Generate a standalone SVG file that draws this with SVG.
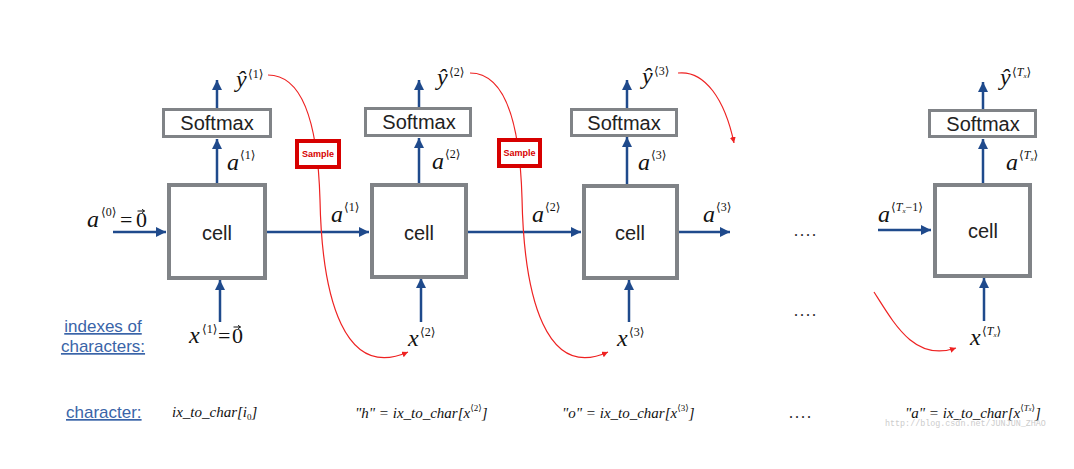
<svg xmlns="http://www.w3.org/2000/svg" width="1074" height="469" viewBox="0 0 1074 469">
<style>
.cell{fill:#fff;stroke:#808387;stroke-width:4}
.soft{fill:#fff;stroke:#808387;stroke-width:3}
.lbl{font-family:"Liberation Sans",Arial,sans-serif;font-size:20px;fill:#222;text-anchor:middle}
.bl{stroke:#1f4a8c;stroke-width:2.5;fill:none;marker-end:url(#ab)}
.rd{stroke:#ee2222;stroke-width:1.2;fill:none;marker-end:url(#ar)}
.vec{stroke:#111;stroke-width:1;fill:none;marker-end:url(#av)}
.samp{fill:#fff;stroke:#d70000;stroke-width:4}
.st{font-family:"Liberation Sans",Arial,sans-serif;font-size:9px;font-weight:bold;fill:#d70000;text-anchor:middle}
.m{font-family:"Liberation Serif","DejaVu Serif",serif;font-style:italic;font-size:24px;fill:#111}
.s{font-family:"Liberation Serif","DejaVu Sans",serif;font-size:12px;fill:#111}
.r{font-family:"Liberation Serif","DejaVu Serif",serif;font-size:22px;fill:#111}
.f{font-family:"Liberation Serif","DejaVu Serif",serif;font-style:italic;font-size:15px;fill:#111}
.fs{font-family:"Liberation Serif","DejaVu Sans",serif;font-style:normal;font-size:9px}
.lk{font-family:"Liberation Sans",Arial,sans-serif;font-size:17px;fill:#3a64a8;text-decoration:underline}
.dots{font-family:"Liberation Serif",serif;font-size:16px;fill:#222;letter-spacing:2px}
</style>
<defs>
<marker id="ab" markerUnits="userSpaceOnUse" markerWidth="12" markerHeight="12" refX="10" refY="5" orient="auto"><path d="M0,0 L10,5 L0,10 Z" fill="#1f4a8c"/></marker>
<marker id="ar" markerUnits="userSpaceOnUse" markerWidth="8" markerHeight="8" refX="6" refY="3" orient="auto"><path d="M0,0 L6,3 L0,6 Z" fill="#ee2222"/></marker>
<marker id="av" markerUnits="userSpaceOnUse" markerWidth="5" markerHeight="5" refX="3" refY="2" orient="auto"><path d="M0,0 L3,2 L0,4" fill="none" stroke="#111" stroke-width="1"/></marker>
</defs>
<g id="connectors">
<path class="bl" d="M217,183 V139"/>
<path class="bl" d="M217,108 V80"/>
<path class="bl" d="M113,232 H166"/>
<path class="bl" d="M267,232 H369"/>
<path class="bl" d="M419,183 V138"/>
<path class="bl" d="M419,107 V80"/>
<path class="bl" d="M468,232 H581"/>
<path class="bl" d="M627,184 V137"/>
<path class="bl" d="M627,108 V80"/>
<path class="bl" d="M679,232 H730"/>
<path class="bl" d="M878,230 H931"/>
<path class="bl" d="M983,183 V139"/>
<path class="bl" d="M983,109 V82"/>
<path class="bl" d="M220,322 V280"/>
<path class="bl" d="M421,322 V278"/>
<path class="bl" d="M629,322 V280"/>
<path class="bl" d="M984,321 V278"/>
<path class="rd" d="M268,75 C305,75 318,130 320,200 C322,300 345,380 408,352"/>
<path class="rd" d="M470,73 C507,73 520,128 522,198 C524,300 547,380 608,352"/>
<path class="rd" d="M678,73 C705,70 725,100 734,143"/>
<path class="rd" d="M874,292 C895,325 915,362 956,348"/>
</g>
<g id="cell1"><rect class="cell" x="169" y="185" width="96" height="93"/><text class="lbl" x="217" y="240">cell</text></g>
<g id="cell2"><rect class="cell" x="372" y="185" width="94" height="92"/><text class="lbl" x="419" y="240">cell</text></g>
<g id="cell3"><rect class="cell" x="584" y="186" width="93" height="92"/><text class="lbl" x="630" y="240">cell</text></g>
<g id="cell4"><rect class="cell" x="935" y="185" width="95" height="91"/><text class="lbl" x="983" y="238">cell</text></g>
<g id="softmax1"><rect class="soft" x="163.5" y="109.5" width="107" height="27"/><text class="lbl" x="217" y="130">Softmax</text></g>
<g id="softmax2"><rect class="soft" x="365.5" y="108.5" width="105" height="27"/><text class="lbl" x="419" y="129">Softmax</text></g>
<g id="softmax3"><rect class="soft" x="571.5" y="109.5" width="105" height="26"/><text class="lbl" x="624" y="130">Softmax</text></g>
<g id="softmax4"><rect class="soft" x="929.5" y="110.5" width="106" height="26"/><text class="lbl" x="983" y="131">Softmax</text></g>
<g id="sample1"><rect class="samp" x="297" y="141" width="42" height="26"/><text class="st" x="318" y="157">Sample</text></g>
<g id="sample2"><rect class="samp" x="499" y="140" width="41" height="26"/><text class="st" x="519.5" y="156">Sample</text></g>
<g id="labels">
<text class="m" x="236" y="87" font-size="22">ŷ</text><text class="s" x="248" y="78">⟨1⟩</text>
<text class="m" x="437" y="85" font-size="22">ŷ</text><text class="s" x="449" y="76">⟨2⟩</text>
<text class="m" x="642" y="84" font-size="22">ŷ</text><text class="s" x="654" y="75">⟨3⟩</text>
<text class="m" x="1000" y="85" font-size="22">ŷ</text><text class="s" x="1012" y="76" font-size="10">⟨<tspan font-style="italic">T</tspan><tspan font-size="7" dy="2" font-style="italic">x</tspan><tspan dy="-2">⟩</tspan></text>
<text class="m" x="227" y="170">a</text><text class="s" x="240" y="159">⟨1⟩</text>
<text class="m" x="432" y="169">a</text><text class="s" x="445" y="158">⟨2⟩</text>
<text class="m" x="638" y="170">a</text><text class="s" x="651" y="159">⟨3⟩</text>
<text class="m" x="1006" y="170">a</text><text class="s" x="1019" y="159" font-size="10">⟨<tspan font-style="italic">T</tspan><tspan font-size="7" dy="2" font-style="italic">x</tspan><tspan dy="-2">⟩</tspan></text>
<text class="m" x="87" y="227">a</text><text class="s" x="101" y="216">⟨0⟩</text><text class="r" x="120" y="227">=</text><text class="r" x="136" y="227">0</text>
<path class="vec" d="M137.5,211 H144.5"/>
<text class="m" x="331" y="222">a</text><text class="s" x="344" y="211">⟨1⟩</text>
<text class="m" x="532" y="222">a</text><text class="s" x="545" y="211">⟨2⟩</text>
<text class="m" x="703" y="222">a</text><text class="s" x="716" y="211">⟨3⟩</text>
<text class="m" x="878" y="222">a</text><text class="s" x="891" y="211" font-size="10">⟨<tspan font-style="italic">T</tspan><tspan font-size="7" dy="2" font-style="italic">x</tspan><tspan dy="-2">−1⟩</tspan></text>
<text class="m" x="189" y="343" font-size="22">x</text><text class="s" x="202" y="333">⟨1⟩</text><text class="r" x="218" y="343">=</text><text class="r" x="232" y="343">0</text>
<path class="vec" d="M233.5,327 H240.5"/>
<text class="m" x="408" y="346" font-size="22">x</text><text class="s" x="420" y="336">⟨2⟩</text>
<text class="m" x="617" y="346" font-size="22">x</text><text class="s" x="629" y="336">⟨3⟩</text>
<text class="m" x="970" y="345" font-size="22">x</text><text class="s" x="982" y="335" font-size="10">⟨<tspan font-style="italic">T</tspan><tspan font-size="7" dy="2" font-style="italic">x</tspan><tspan dy="-2">⟩</tspan></text>
<text class="dots" x="794" y="236">....</text>
<text class="dots" x="794" y="316">....</text>
<text class="dots" x="789" y="418">....</text>
<text class="lk" x="103" y="332" text-anchor="middle">indexes of</text>
<text class="lk" x="103" y="352" text-anchor="middle">characters:</text>
<text class="lk" x="66" y="418">character:</text>
<text class="f" x="172" y="417">ix_to_char[i<tspan class="fs" dy="3">0</tspan><tspan dy="-3">]</tspan></text>
<text class="f" x="355" y="418">"h" = ix_to_char[x<tspan class="fs" dy="-7">⟨2⟩</tspan><tspan dy="7">]</tspan></text>
<text class="f" x="562" y="418">"o" = ix_to_char[x<tspan class="fs" dy="-7">⟨3⟩</tspan><tspan dy="7">]</tspan></text>
<text class="f" x="905" y="418">"a" = ix_to_char[x<tspan class="fs" dy="-7">⟨<tspan font-style="italic">T</tspan><tspan font-size="6" font-style="italic">x</tspan>⟩</tspan><tspan dy="7">]</tspan></text>
<text x="885" y="426" font-family="'Liberation Mono',monospace" font-size="8.4" fill="#cccccc">http://blog.csdn.net/JUNJUN_ZHAO</text>
</g>
</svg>
